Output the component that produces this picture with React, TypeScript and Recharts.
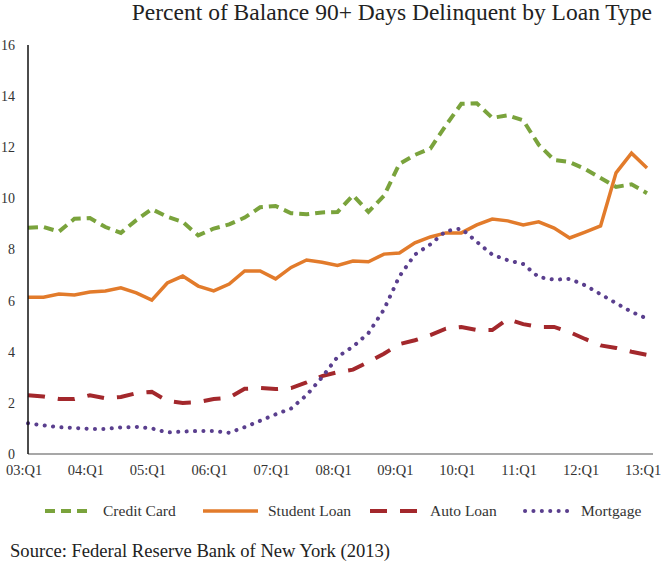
import React from "react";
import { LineChart, Line, XAxis, YAxis } from "recharts";

const quarters = [
  "03:Q1", "03:Q2", "03:Q3", "03:Q4",
  "04:Q1", "04:Q2", "04:Q3", "04:Q4",
  "05:Q1", "05:Q2", "05:Q3", "05:Q4",
  "06:Q1", "06:Q2", "06:Q3", "06:Q4",
  "07:Q1", "07:Q2", "07:Q3", "07:Q4",
  "08:Q1", "08:Q2", "08:Q3", "08:Q4",
  "09:Q1", "09:Q2", "09:Q3", "09:Q4",
  "10:Q1", "10:Q2", "10:Q3", "10:Q4",
  "11:Q1", "11:Q2", "11:Q3", "11:Q4",
  "12:Q1", "12:Q2", "12:Q3", "12:Q4",
  "13:Q1",
];

const creditCard = [
  8.85, 8.88, 8.7, 9.2, 9.23, 8.88, 8.65, 9.15, 9.58, 9.28,
  9.08, 8.55, 8.82, 8.98, 9.25, 9.65, 9.7, 9.42, 9.38, 9.45,
  9.47, 10.12, 9.47, 10.1, 11.35, 11.7, 11.95, 12.85, 13.7, 13.72,
  13.15, 13.25, 13.05, 12.1, 11.5, 11.42, 11.15, 10.8, 10.45, 10.55,
  10.2,
];

const studentLoan = [
  6.13, 6.13, 6.26, 6.22, 6.34, 6.38, 6.5, 6.3, 6.02, 6.69,
  6.96, 6.57, 6.38, 6.65, 7.16, 7.16, 6.85, 7.3, 7.59, 7.5,
  7.38, 7.55, 7.52, 7.82, 7.86, 8.26, 8.49, 8.65, 8.65, 8.96,
  9.19, 9.12, 8.96, 9.08, 8.84, 8.45, 8.68, 8.92, 11.0, 11.77,
  11.19,
];

const autoLoan = [
  2.3, 2.25, 2.15, 2.15, 2.3, 2.18, 2.23, 2.38, 2.43, 2.08,
  2.0, 2.03, 2.15, 2.2, 2.55, 2.58, 2.54, 2.58, 2.8, 3.05,
  3.2, 3.3, 3.6, 3.92, 4.3, 4.45, 4.65, 4.9, 4.97, 4.85,
  4.85, 5.28, 5.08, 4.97, 4.97, 4.77, 4.5, 4.25, 4.15, 4.0,
  3.88,
];

const mortgage = [
  1.2, 1.12, 1.05, 1.02, 0.98, 0.98, 1.04, 1.06, 1.0, 0.84,
  0.88, 0.9, 0.9, 0.83, 1.05, 1.3, 1.55, 1.78, 2.3, 3.0,
  3.8, 4.2, 4.73, 5.65, 6.95, 7.8, 8.2, 8.72, 8.82, 8.3,
  7.8, 7.58, 7.43, 6.92, 6.82, 6.85, 6.6, 6.25, 5.9, 5.56,
  5.3,
];

const yTicks = [0, 2, 4, 6, 8, 10, 12, 14, 16];

const data = quarters.map((q, i) => ({
  q,
  credit: creditCard[i],
  student: studentLoan[i],
  auto: autoLoan[i],
  mortgage: mortgage[i],
}));

const FONT = "'Liberation Serif', 'Times New Roman', serif";

const GREEN = "#7AA33C";
const ORANGE = "#E27B2B";
const RED = "#A3282C";
const PURPLE = "#5A3F8E";

function LegendItem({
  x,
  sampleWidth,
  color,
  dash,
  cap,
  width,
  label,
}: {
  x: number;
  sampleWidth: number;
  color: string;
  dash?: string;
  cap?: "round" | "butt";
  width: number;
  label: string;
}) {
  return (
    <div style={{ position: "absolute", left: x, top: 0, display: "flex", alignItems: "center", height: 20 }}>
      <svg width={sampleWidth} height={10}>
        <line
          x1={cap === "round" ? 2 : 0}
          y1={5}
          x2={sampleWidth}
          y2={5}
          stroke={color}
          strokeWidth={width}
          strokeDasharray={dash}
          strokeLinecap={cap || "butt"}
        />
      </svg>
      <span style={{ marginLeft: 10, fontSize: 15.5, color: "#333" }}>{label}</span>
    </div>
  );
}

export default function App() {
  return (
    <div
      style={{
        position: "absolute",
        left: 0,
        top: 0,
        width: 664,
        height: 569,
        background: "#fff",
        fontFamily: FONT,
        overflow: "hidden",
      }}
    >
      <div
        style={{
          position: "absolute",
          right: 12,
          top: -1,
          fontSize: 23.5,
          lineHeight: "26px",
          color: "#222",
          whiteSpace: "nowrap",
        }}
      >
        Percent of Balance 90+ Days Delinquent by Loan Type
      </div>

      <div style={{ position: "absolute", left: 0, top: 0 }}>
        <LineChart
          width={664}
          height={480}
          data={data}
          margin={{ top: 45, right: 11, left: 0, bottom: 0 }}
        >
          <XAxis
            dataKey="q"
            interval={3}
            tickLine={false}
            axisLine={{ stroke: "#8a8a8a", strokeWidth: 1.5 }}
            padding={{ left: 0, right: 6 }}
            height={26}
            tick={{ fontSize: 14.5, fill: "#333", fontFamily: FONT, dx: -4, dy: 3 }}
          />
          <YAxis
            domain={[0, 16]}
            ticks={yTicks}
            width={28}
            tickLine={false}
            tickMargin={7}
            axisLine={{ stroke: "#111", strokeWidth: 1.5 }}
            tick={{ fontSize: 14, fill: "#333", fontFamily: FONT }}
          />
          <Line
            dataKey="credit"
            stroke={GREEN}
            strokeWidth={4}
            strokeDasharray="10 6"
            dot={false}
            activeDot={false}
            isAnimationActive={false}
          />
          <Line
            dataKey="student"
            stroke={ORANGE}
            strokeWidth={3.5}
            dot={false}
            activeDot={false}
            isAnimationActive={false}
          />
          <Line
            dataKey="auto"
            stroke={RED}
            strokeWidth={4}
            strokeDasharray="17 13"
            dot={false}
            activeDot={false}
            isAnimationActive={false}
          />
          <Line
            dataKey="mortgage"
            stroke={PURPLE}
            strokeWidth={4}
            strokeDasharray="0.1 8.3"
            strokeLinecap="round"
            dot={false}
            activeDot={false}
            isAnimationActive={false}
          />
        </LineChart>
      </div>

      <div style={{ position: "absolute", left: 0, top: 501, width: 664, height: 20 }}>
        <LegendItem x={45} sampleWidth={48} color={GREEN} width={4} dash="10 6" label="Credit Card" />
        <LegendItem x={203} sampleWidth={55} color={ORANGE} width={3.5} label="Student Loan" />
        <LegendItem x={370} sampleWidth={50} color={RED} width={4} dash="17 13" label="Auto Loan" />
        <LegendItem x={523} sampleWidth={48} color={PURPLE} width={4} dash="0.1 8.3" cap="round" label="Mortgage" />
      </div>

      <div
        style={{
          position: "absolute",
          left: 10,
          top: 539,
          fontSize: 18.6,
          lineHeight: "24px",
          color: "#222",
          whiteSpace: "nowrap",
        }}
      >
        Source: Federal Reserve Bank of New York (2013)
      </div>
    </div>
  );
}
